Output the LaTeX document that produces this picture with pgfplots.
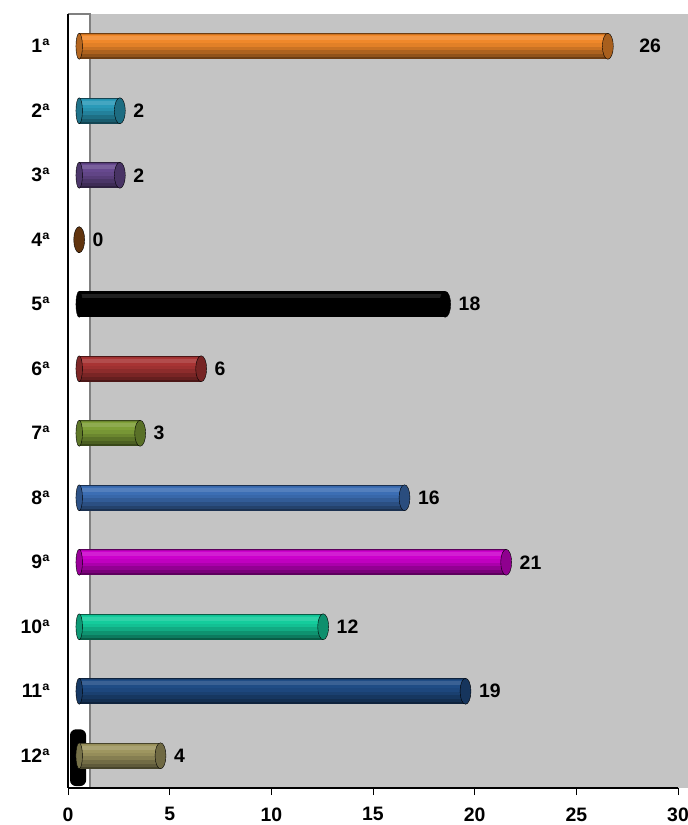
\documentclass[border=0pt]{standalone}
\usepackage{pgfplots}
\pgfplotsset{compat=1.18}
\usepackage{fontspec}
\setmainfont{Liberation Sans}
\definecolor{c1}{HTML}{F0882A}
\definecolor{c2}{HTML}{2A9AB8}
\definecolor{c3}{HTML}{67498F}
\definecolor{c4}{HTML}{8B4A14}
\definecolor{c5}{HTML}{000000}
\definecolor{c6}{HTML}{A83434}
\definecolor{c7}{HTML}{7FA038}
\definecolor{c8}{HTML}{3C6EB4}
\definecolor{c9}{HTML}{CC00CC}
\definecolor{c10}{HTML}{14CC9C}
\definecolor{c11}{HTML}{1F4C85}
\definecolor{c12}{HTML}{9E9660}
\definecolor{plotgrey}{HTML}{C4C4C4}
\newcommand{\lblfont}{\bfseries\fontsize{19.5}{22}\selectfont}
% #1 colour, #2 value, #3 category, #4 label shift
\newcommand{\cyl}[4]{%
 \addplot[only marks, mark=*, mark size=13bp, mark options={xscale=0.25, fill=#1!75!black, draw=none}, x filter/.expression={x+0.55}] coordinates {(0,#3)};
 \addplot[draw=#1!45!black, line width=26bp, x filter/.expression={x+0.55}] coordinates {(0,#3) (#2,#3)};
 \addplot[draw=#1!60!black, line width=23bp, yshift=0.5bp, x filter/.expression={x+0.55}] coordinates {(0,#3) (#2,#3)};
 \addplot[draw=#1!72!black, line width=20bp, yshift=2bp, x filter/.expression={x+0.55}] coordinates {(0,#3) (#2,#3)};
 \addplot[draw=#1!84!black, line width=16bp, yshift=4bp, x filter/.expression={x+0.55}] coordinates {(0,#3) (#2,#3)};
 \addplot[draw=#1!94!black, line width=12bp, yshift=5.5bp, x filter/.expression={x+0.55}] coordinates {(0,#3) (#2,#3)};
 \addplot[draw=#1, line width=8bp, yshift=7bp, x filter/.expression={x+0.55}] coordinates {(0,#3) (#2,#3)};
 \addplot[draw=#1!88!white, line width=4bp, yshift=8bp, x filter/.expression={x+0.55}] coordinates {(0,#3) (#2,#3)};
 \addplot[only marks, mark=*, mark size=13bp, mark options={xscale=0.42, fill=#1!70!black, draw=none}, x filter/.expression={x+0.55}, point meta=explicit symbolic, nodes near coords, nodes near coords style={anchor=west, xshift=#4, font=\lblfont, text=black}] coordinates {(#2,#3) [#2]};
}
\begin{document}
\begin{tikzpicture}
\begin{axis}[
  scale only axis, width=610bp, height=774bp,
  xmin=0, xmax=30, ymin=0.5, ymax=12.5, y dir=reverse,
  axis x line=bottom, axis y line=left,
  axis line style={-, line width=1.6bp, black},
  axis on top, clip=false,
  xtick={0,5,...,30},
  ytick={1,...,12},
  yticklabels={1ª,2ª,3ª,4ª,5ª,6ª,7ª,8ª,9ª,10ª,11ª,12ª},
  minor ytick={0.5,1.5,...,12.5},
  major tick length=7bp, minor tick length=6bp,
  tick align=outside,
  ytick style={draw=none},
  minor tick style={draw=black, line width=0.8bp},
  xtick style={draw=black, line width=0.8bp},
  tick label style={font=\lblfont},
  /pgf/number format/assume math mode=true,
  yticklabel style={xshift=-8bp},
  xticklabel style={yshift=-9bp},
]
\fill[plotgrey] (axis cs:1.08,0.5) rectangle (axis cs:30.5,12.5);
\draw[gray, line width=1.5bp] (axis cs:0,0.5) -- (axis cs:1.08,0.5) -- (axis cs:1.08,12.5);
\fill[black, rounded corners=6bp] (axis cs:0.1,11.59) rectangle (axis cs:0.89,12.47);
\cyl{c1}{26}{1}{28bp}
\cyl{c2}{2}{2}{10bp}
\cyl{c3}{2}{3}{10bp}
\cyl{c4}{0}{4}{10bp}
\cyl{c5}{18}{5}{10bp}
\cyl{c6}{6}{6}{10bp}
\cyl{c7}{3}{7}{10bp}
\cyl{c8}{16}{8}{10bp}
\cyl{c9}{21}{9}{10bp}
\cyl{c10}{12}{10}{10bp}
\cyl{c11}{19}{11}{10bp}
\cyl{c12}{4}{12}{10bp}
\coordinate (A) at (rel axis cs:0,0);
\coordinate (B) at (rel axis cs:1,1);
\end{axis}
\pgfresetboundingbox
\path ([shift={(-68bp,-37bp)}]A) rectangle ([shift={(10bp,14bp)}]B);
\end{tikzpicture}
\end{document}
